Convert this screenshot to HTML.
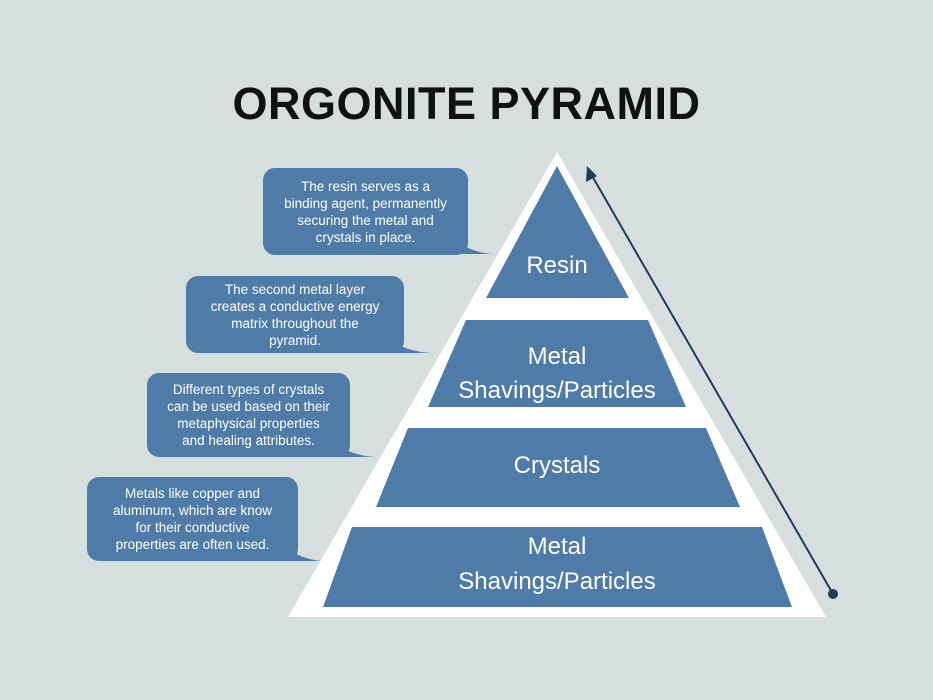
<!DOCTYPE html>
<html><head><style>
body{margin:0;width:933px;height:700px;background:#d6dfde;overflow:hidden;font-family:"Liberation Sans",sans-serif;position:relative}
.t{position:absolute;left:0;width:933px;top:78px;text-align:center;font-size:45px;font-weight:bold;color:#111;letter-spacing:0.5px}
.b{position:absolute;background:#4f7ba8;color:#fff;border-radius:12px;font-size:13.5px;line-height:17px;text-align:center;display:flex;align-items:center;justify-content:center;box-sizing:border-box;padding:4px 4px;white-space:nowrap}
svg{position:absolute;left:0;top:0}
</style></head><body>
<div class="t">ORGONITE PYRAMID</div>
<svg width="933" height="700">
<g fill="#4f7ba8">
<path d="M455 240 Q470 252 492 254 L455 254Z"/>
<path d="M390 340 Q408 352 432 353 L390 353Z"/>
<path d="M335 443 Q352 456 376 457 L335 457Z"/>
<path d="M285 547 Q302 560 324 561 L285 561Z"/>
</g>
<polygon points="557,152 826,617 288,617" fill="#fff"/>
<g fill="#4f7ba8">
<polygon points="557,166 629,298 486,298"/>
<polygon points="466,320 648,320 686,407 428,407"/>
<polygon points="408,428 706,428 740,507 376,507"/>
<polygon points="352,527 762,527 792,607 323,607"/>
</g>
<g fill="#fff" font-size="24" text-anchor="middle" font-family="Liberation Sans,sans-serif">
<text x="557" y="273">Resin</text>
<text x="557" y="364">Metal</text>
<text x="557" y="398">Shavings/Particles</text>
<text x="557" y="473">Crystals</text>
<text x="557" y="554">Metal</text>
<text x="557" y="589">Shavings/Particles</text>
</g>
<line x1="833" y1="594" x2="591" y2="174" stroke="#1f3b5a" stroke-width="2"/>
<polygon points="587,166 586,182 597,176" fill="#1f3b5a"/>
<circle cx="833" cy="594" r="5" fill="#1f3b5a"/>
</svg>
<div class="b" style="left:263px;top:168px;width:205px;height:87px">The resin serves as a<br>binding agent, permanently<br>securing the metal and<br>crystals in place.</div>
<div class="b" style="left:186px;top:276px;width:218px;height:77px">The second metal layer<br>creates a conductive energy<br>matrix throughout the<br>pyramid.</div>
<div class="b" style="left:147px;top:373px;width:203px;height:84px">Different types of crystals<br>can be used based on their<br>metaphysical properties<br>and healing attributes.</div>
<div class="b" style="left:87px;top:477px;width:211px;height:84px">Metals like copper and<br>aluminum, which are know<br>for their conductive<br>properties are often used.</div>
</body></html>
